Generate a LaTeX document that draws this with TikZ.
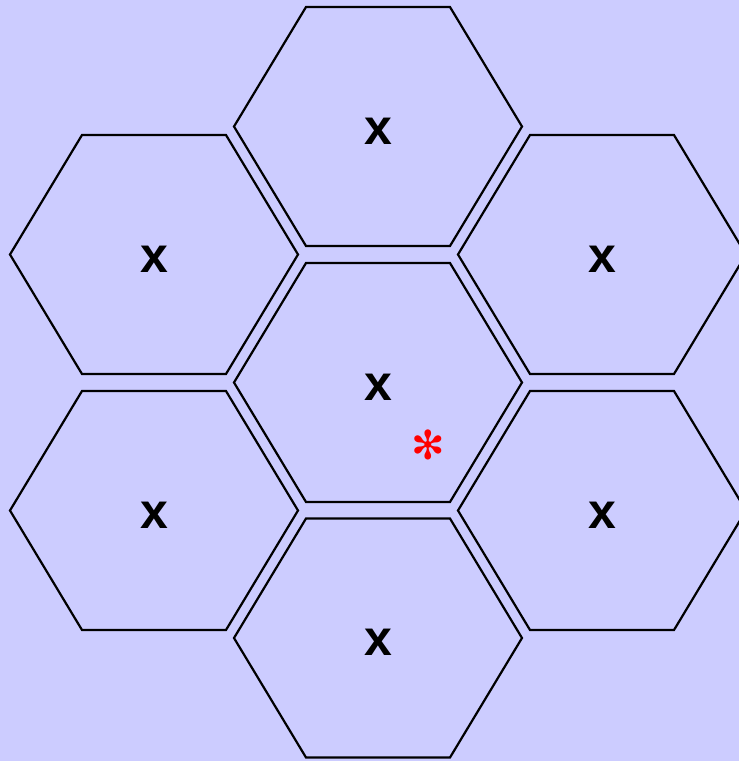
\documentclass[tikz,border=0pt]{standalone}
\usepackage{fontspec}
\setmainfont{Liberation Sans}
\newfontfamily\symfont{DejaVu Sans}
\definecolor{bg}{RGB}{204,204,255}
\definecolor{starred}{RGB}{255,0,0}
\begin{document}
\begin{tikzpicture}[x=1pt,y=-1pt,
  hexcell/.style={draw=black,line width=2.2pt,line join=miter,fill=bg},
  celllabel/.style={font=\fontsize{50}{50}\selectfont\bfseries,inner sep=0pt}]
\fill[bg] (0,0) rectangle (739,761);
\useasboundingbox (0,0) rectangle (739,761);
\foreach \name/\cx/\cy in {top/378/126.5, mid/378/382.5, bot/378/638, lt/154/254.5, lb/154/510.5, rt/602/254.5, rb/602/510.5}{
  \draw[hexcell] (\cx-144,\cy) -- (\cx-72,\cy-119.5) -- (\cx+72,\cy-119.5) -- (\cx+144,\cy) -- (\cx+72,\cy+119.5) -- (\cx-72,\cy+119.5) -- cycle;
  \node[celllabel] (\name) at (\cx,\cy+4.5) {x};
}
\node[text=starred,font=\symfont\fontsize{40}{40}\selectfont,inner sep=0pt] (star) at (428,445) {✻};
\end{tikzpicture}
\end{document}
